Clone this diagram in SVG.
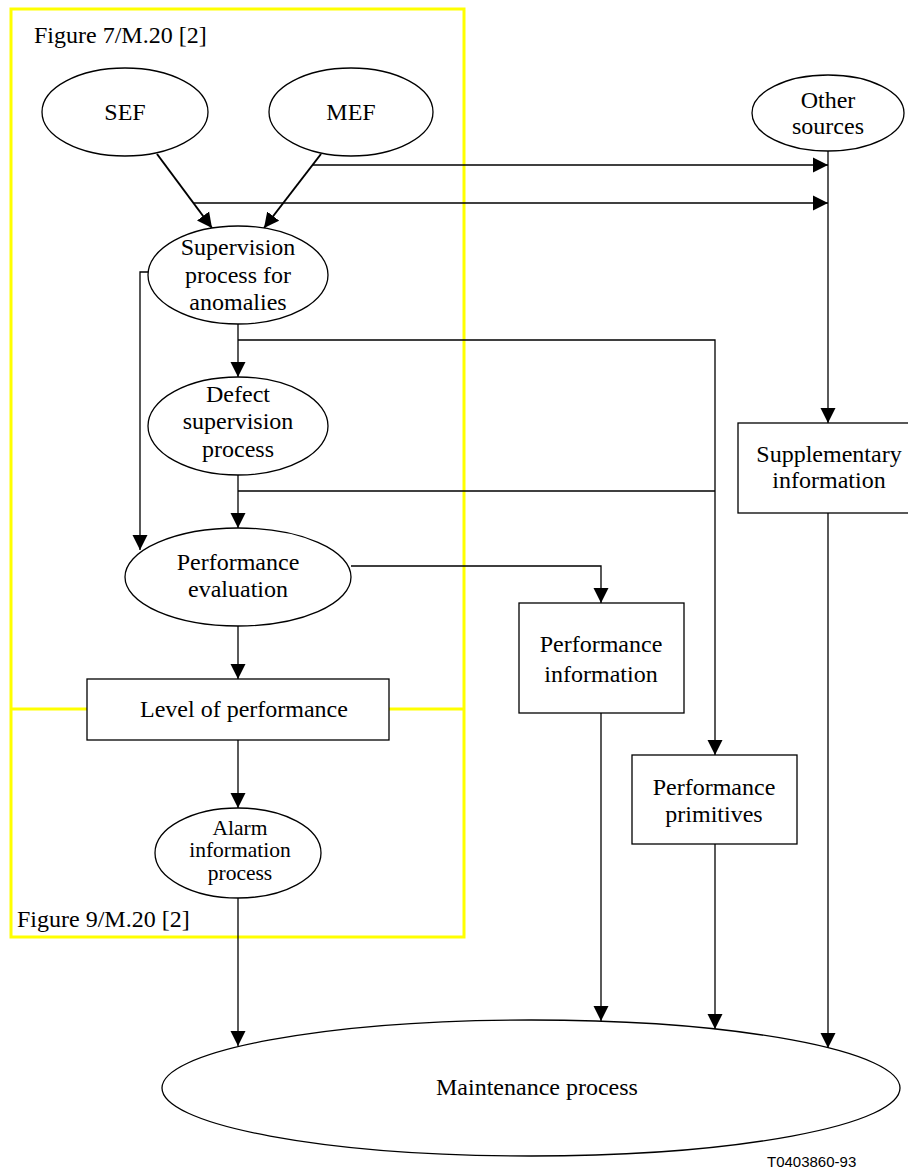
<svg xmlns="http://www.w3.org/2000/svg" width="908" height="1171" viewBox="0 0 908 1171">
<style>
.n{fill:#fff;stroke:#000;stroke-width:1.3}
.t{font-family:"Liberation Serif","Times New Roman",serif;font-size:24px;fill:#000;text-anchor:middle}
.ts{font-family:"Liberation Serif","Times New Roman",serif;font-size:21.5px;fill:#000;text-anchor:middle}
.tl{font-family:"Liberation Serif","Times New Roman",serif;font-size:24px;fill:#000}
.c{fill:none;stroke:#000;stroke-width:1.3}
.cb{fill:none;stroke:#000;stroke-width:2}
.a{marker-end:url(#ah)}
</style>
<defs>
<marker id="ah" markerUnits="userSpaceOnUse" markerWidth="16" markerHeight="16" viewBox="-15 -8 16 16" refX="0" refY="0" orient="auto">
<path d="M-15,-7.5 L0,0 L-15,7.5 z" fill="#000"/>
</marker>
</defs>
<rect width="908" height="1171" fill="#fff"/>
<g id="frame">
<rect x="11" y="9" width="453" height="928" fill="none" stroke="#ffff00" stroke-width="3"/>
<line x1="11" y1="709" x2="464" y2="709" stroke="#ffff00" stroke-width="3"/>
<text class="tl" x="34" y="43">Figure 7/M.20 [2]</text>
<text class="tl" x="17" y="927">Figure 9/M.20 [2]</text>
</g>
<g id="connectors">
<path class="cb a" d="M157,154 L212,228"/>
<path class="cb a" d="M321,154 L264,228"/>
<path class="c a" d="M313,165 L828,165"/>
<path class="c a" d="M194,203 L828,203"/>
<path class="c a" d="M828,151 L828,423"/>
<path class="c a" d="M148,272 L140,272 L140,550"/>
<path class="c a" d="M238,323 L238,377"/>
<path class="c a" d="M238,340 L715,340 L715,755"/>
<path class="c a" d="M238,475 L238,528"/>
<path class="c" d="M238,491 L715,491"/>
<path class="c a" d="M351,566 L601,566 L601,603"/>
<path class="c a" d="M238,626 L238,679"/>
<path class="c a" d="M238,740 L238,808"/>
<path class="c a" d="M238,898 L238,1046"/>
<path class="c a" d="M601,713 L601,1021"/>
<path class="c a" d="M715,844 L715,1029"/>
<path class="c a" d="M828,513 L828,1048"/>
</g>
<g id="sef">
<ellipse class="n" cx="125" cy="112" rx="83" ry="44"/>
<text class="t" x="125" y="120">SEF</text>
</g>
<g id="mef">
<ellipse class="n" cx="351" cy="112" rx="82" ry="44"/>
<text class="t" x="351" y="120">MEF</text>
</g>
<g id="other-sources">
<ellipse class="n" cx="828" cy="113" rx="76" ry="38"/>
<text class="t" x="828" y="108">Other</text>
<text class="t" x="828" y="134">sources</text>
</g>
<g id="supervision">
<ellipse class="n" cx="238" cy="275" rx="90" ry="49"/>
<text class="t" x="238" y="255">Supervision</text>
<text class="t" x="238" y="283">process for</text>
<text class="t" x="238" y="310">anomalies</text>
</g>
<g id="defect">
<ellipse class="n" cx="238" cy="426" rx="90" ry="49"/>
<text class="t" x="238" y="402">Defect</text>
<text class="t" x="238" y="429">supervision</text>
<text class="t" x="238" y="457">process</text>
</g>
<g id="perf-eval">
<ellipse class="n" cx="238" cy="577" rx="113" ry="49"/>
<text class="t" x="238" y="570">Performance</text>
<text class="t" x="238" y="597">evaluation</text>
</g>
<g id="level">
<rect class="n" x="87" y="679" width="302" height="61"/>
<text class="t" x="244" y="717">Level of performance</text>
</g>
<g id="alarm">
<ellipse class="n" cx="238" cy="853" rx="83" ry="45"/>
<text class="ts" x="240" y="835">Alarm</text>
<text class="ts" x="240" y="857">information</text>
<text class="ts" x="240" y="880">process</text>
</g>
<g id="supplementary">
<rect class="n" x="738" y="423" width="180" height="90"/>
<text class="t" x="829" y="462">Supplementary</text>
<text class="t" x="829" y="488">information</text>
</g>
<g id="perf-info">
<rect class="n" x="519" y="603" width="165" height="110"/>
<text class="t" x="601" y="652">Performance</text>
<text class="t" x="601" y="682">information</text>
</g>
<g id="perf-primitives">
<rect class="n" x="632" y="755" width="165" height="89"/>
<text class="t" x="714" y="795">Performance</text>
<text class="t" x="714" y="822">primitives</text>
</g>
<g id="maintenance">
<ellipse class="n" cx="531" cy="1088" rx="369" ry="68"/>
<text class="t" x="537" y="1095">Maintenance process</text>
</g>
<text x="767" y="1167" font-family="Liberation Sans, Arial, sans-serif" font-size="15" fill="#000">T0403860-93</text>
</svg>
